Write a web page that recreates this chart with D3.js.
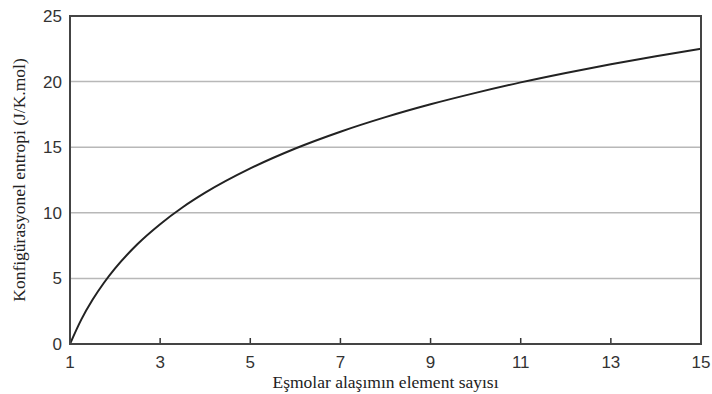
<!DOCTYPE html>
<html lang="tr">
  <head>
    <meta charset="utf-8">
    <title>Konfigürasyonel entropi</title>
    <script src="https://d3js.org/d3.v7.min.js"></script>
    <style>
      body { margin: 0; background: #fff; }
    </style>
  </head>
<body>

<script>
// values
var elementCount = [1, 1.25, 1.5, 1.75, 2, 2.5, 3, 3.5, 4, 5, 6, 7, 8, 9, 10, 11, 12, 13, 14, 15];
var entropy = [0, 1.86, 3.37, 4.65, 5.76, 7.62, 9.13, 10.42, 11.53, 13.38, 14.9, 16.18, 17.29, 18.27, 19.14, 19.94, 20.66, 21.33, 21.94, 22.51];
var xTicks = [1, 3, 5, 7, 9, 11, 13, 15];
var yTicks = [0, 5, 10, 15, 20, 25];

var width = 712, height = 394;
var margin = {left: 70, right: 11, top: 16, bottom: 50};

var svg = d3.select("body")
    .append("svg")
    .attr("width", width)
    .attr("height", height);

var x = d3.scaleLinear().domain([1, 15]).range([margin.left, width - margin.right]);
var y = d3.scaleLinear().domain([0, 25]).range([height - margin.bottom, margin.top]);

// horizontal grid
svg.append("g")
    .selectAll("line")
    .data(yTicks.filter(d => d > 0 && d < 25))
    .join("line")
    .attr("x1", x(1)).attr("x2", x(15))
    .attr("y1", d => y(d)).attr("y2", d => y(d))
    .attr("stroke", "#b8b8b8")
    .attr("stroke-width", 1.5);

// x ticks pointing inward
svg.append("g")
    .selectAll("line")
    .data(xTicks.slice(1, -1))
    .join("line")
    .attr("x1", d => x(d)).attr("x2", d => x(d))
    .attr("y1", y(0)).attr("y2", y(0) - 6)
    .attr("stroke", "#333")
    .attr("stroke-width", 1.5);

// curve
var line = d3.line()
    .x((d, i) => x(elementCount[i]))
    .y(d => y(d))
    .curve(d3.curveMonotoneX);

svg.append("path")
    .datum(entropy)
    .attr("d", line)
    .attr("fill", "none")
    .attr("stroke", "#222")
    .attr("stroke-width", 2);

// frame
svg.append("rect")
    .attr("x", x(1)).attr("y", y(25))
    .attr("width", x(15) - x(1))
    .attr("height", y(0) - y(25))
    .attr("fill", "none")
    .attr("stroke", "#444")
    .attr("stroke-width", 2);

// tick labels
svg.append("g")
    .selectAll("text")
    .data(xTicks)
    .join("text")
    .attr("x", d => x(d))
    .attr("y", y(0) + 24)
    .attr("text-anchor", "middle")
    .attr("font-family", "Liberation Sans, Arial, sans-serif")
    .attr("font-size", 17)
    .attr("fill", "#333")
    .text(d => d);

svg.append("g")
    .selectAll("text")
    .data(yTicks)
    .join("text")
    .attr("x", x(1) - 8)
    .attr("y", d => y(d) + 6)
    .attr("text-anchor", "end")
    .attr("font-family", "Liberation Sans, Arial, sans-serif")
    .attr("font-size", 17)
    .attr("fill", "#333")
    .text(d => d);

// axis titles
svg.append("text")
    .attr("x", (x(1) + x(15)) / 2)
    .attr("y", 388)
    .attr("text-anchor", "middle")
    .attr("font-family", "Liberation Serif, Times New Roman, serif")
    .attr("font-size", 17.5)
    .attr("fill", "#222")
    .text("Eşmolar alaşımın element sayısı");

svg.append("text")
    .attr("transform", "translate(25," + ((y(0) + y(25)) / 2) + ") rotate(-90)")
    .attr("text-anchor", "middle")
    .attr("font-family", "Liberation Serif, Times New Roman, serif")
    .attr("font-size", 17.5)
    .attr("fill", "#222")
    .text("Konfigürasyonel entropi (J/K.mol)");
</script>
</body>
</html>
